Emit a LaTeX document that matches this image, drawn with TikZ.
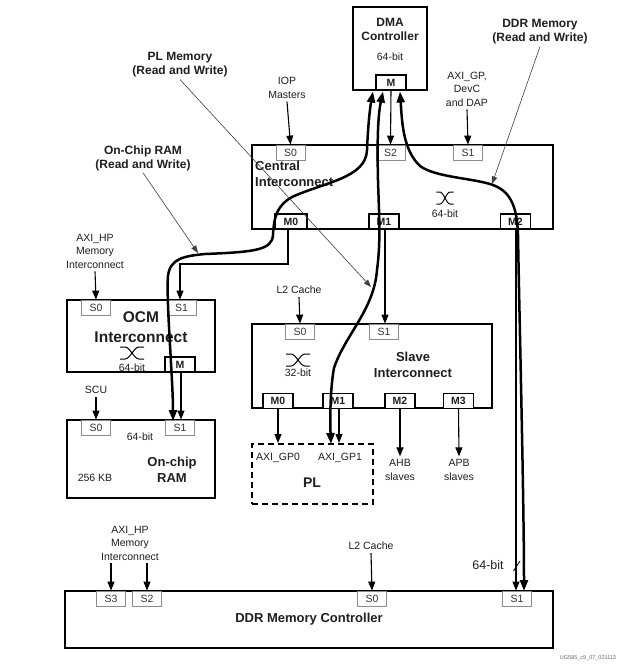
\documentclass[tikz,border=0pt]{standalone}
\usepackage{fontspec}
\setmainfont{Liberation Sans}
\usetikzlibrary{arrows.meta}
\begin{document}
\begin{tikzpicture}[x=1pt,y=-1pt,
  every node/.style={inner sep=0pt, text=black!88},
  lbl/.style={font=\fontsize{10.5}{13.5}\selectfont, align=center, inner sep=3pt},
  ttl/.style={font=\fontsize{12}{14}\selectfont\bfseries, align=center, inner sep=2pt},
  big/.style={font=\fontsize{13}{15.5}\selectfont\bfseries, align=center},
  thinbox/.style={draw=black, line width=1.2pt},
  thickbox/.style={draw=black, line width=2.2pt},
  sport/.style={draw=black!45, line width=0.8pt, minimum width=29pt, minimum height=15pt, font=\fontsize{10.5}{12}\selectfont, text=black!80, fill=white},
  mport/.style={draw=black, line width=1.1pt, minimum width=30pt, minimum height=15pt, font=\fontsize{10.5}{12}\selectfont\bfseries, fill=white},
  tarrow/.style={line width=1.1pt, -{Triangle[length=9pt,width=7pt]}},
  pointer/.style={line width=0.6pt, draw=black!75, -{Triangle[length=7.5pt,width=5.5pt]}},
  thickpath/.style={line width=2.5pt, {Triangle[length=11pt,width=8pt]}-{Triangle[length=11pt,width=8pt]}},
  xover/.pic={
    \draw[line width=1pt] (-12,-6) -- (-7,-6) .. controls (-2,-6) and (2,6) .. (7,6) -- (12,6);
    \draw[line width=1pt] (-12,6) -- (-7,6) .. controls (-2,6) and (2,-6) .. (7,-6) -- (12,-6);
  }
]
\useasboundingbox[fill=white] (0,0) rectangle (630,664);

% ---------- DMA controller ----------
\node[thickbox, minimum width=74pt, minimum height=83pt] (dma) at (390,48.5) {};
\node[ttl] (dmat) at (390,29) {DMA\\Controller};
\node[lbl] (dmab) at (390,57) {64-bit};
\node[mport] (dmaM) at (391,82.5) {M};

% ---------- Central interconnect ----------
\node[thinbox, minimum width=301pt, minimum height=84pt] (ci) at (402.5,187) {};
\node[sport] (ciS0) at (290.5,152.5) {S0};
\node[sport] (ciS2) at (390.5,152.5) {S2};
\node[sport] (ciS1) at (468,152.5) {S1};
\node[mport, minimum width=32pt] (ciM0) at (291,221.5) {M0};
\node[mport] (ciM1) at (384,221.5) {M1};
\node[mport] (ciM2) at (515.5,221.5) {M2};
\node[big, align=left, anchor=west, font=\fontsize{13}{16}\selectfont\bfseries] (cit) at (255,174) {Central\\Interconnect};
\pic[xscale=0.72] at (445,198) {xover};
\node[lbl] (cib) at (445,214) {64-bit};

\node[lbl] (iop) at (287,88) {IOP\\Masters};
\node[lbl] (axigp) at (467,89) {AXI\_GP,\\DevC\\and DAP};

% ---------- OCM interconnect ----------
\node[thinbox, minimum width=148pt, minimum height=72pt] (ocm) at (141,336) {};
\node[sport] (ocmS0) at (96,307.5) {S0};
\node[sport] (ocmS1) at (181.5,307.5) {S1};
\node[mport] (ocmM) at (180,364.5) {M};
\node[font=\fontsize{15.5}{20}\selectfont\bfseries, align=center] (ocmt) at (141,327) {OCM\\Interconnect};
\pic at (132,353) {xover};
\node[lbl] (ocmb) at (132,368) {64-bit};
\node[lbl] (axihp1) at (95,251) {AXI\_HP\\Memory\\Interconnect};

% ---------- On-chip RAM ----------
\node[thickbox, minimum width=148pt, minimum height=78pt] (ram) at (141,459) {};
\node[sport] (ramS0) at (96,427.5) {S0};
\node[sport] (ramS1) at (180,427.5) {S1};
\node[lbl] (ramb) at (140,437) {64-bit};
\node[big] (ramt) at (172,470) {On-chip\\RAM};
\node[lbl] (ramkb) at (95,478) {256 KB};
\node[lbl] (scu) at (96,390) {SCU};

% ---------- Slave interconnect ----------
\node[thinbox, minimum width=240pt, minimum height=84pt] (si) at (372,366) {};
\node[sport] (siS0) at (300,331.5) {S0};
\node[sport] (siS1) at (384,331.5) {S1};
\node[mport] (siM0) at (278,401) {M0};
\node[mport] (siM1) at (338,401) {M1};
\node[mport] (siM2) at (400,401) {M2};
\node[mport] (siM3) at (458.5,401) {M3};
\pic at (298,360) {xover};
\node[lbl] (sib) at (298,373) {32-bit};
\node[big] (sit) at (413,365) {Slave\\Interconnect};
\node[lbl] (l2a) at (299,290) {L2 Cache};

% ---------- PL ----------
\node[draw=black, line width=2pt, dash pattern=on 6pt off 4pt, minimum width=121pt, minimum height=60pt] (pl) at (312.5,474) {};
\node[lbl] (gp0) at (278,458) {AXI\_GP0};
\node[lbl] (gp1) at (340,458) {AXI\_GP1};
\node[font=\fontsize{14}{16}\selectfont\bfseries] (plt) at (312,483) {PL};
\node[lbl] (ahb) at (400,470) {AHB\\slaves};
\node[lbl] (apb) at (459,470) {APB\\slaves};

% ---------- DDR controller ----------
\node[thickbox, line width=2.4pt, minimum width=488pt, minimum height=57pt] (ddr) at (309,619.5) {};
\node[sport] (ddrS3) at (111,598.5) {S3};
\node[sport] (ddrS2) at (147,598.5) {S2};
\node[sport] (ddrS0) at (372,598.5) {S0};
\node[sport] (ddrS1) at (517,598.5) {S1};
\node[big] (ddrt) at (309,619) {DDR Memory Controller};
\node[lbl] (axihp2) at (130,543) {AXI\_HP\\Memory\\Interconnect};
\node[lbl] (l2b) at (371,546) {L2 Cache};
\node[font=\fontsize{12.5}{14}\selectfont] (b64) at (488,565) {64-bit};

% ---------- flow labels ----------
\node[ttl] (plmem) at (180,65) {PL Memory\\(Read and Write)};
\node[ttl] (ocmmem) at (143,158) {On-Chip RAM\\(Read and Write)};
\node[ttl] (ddrmem) at (540,32) {DDR Memory\\(Read and Write)};

\node[font=\fontsize{5.5}{6}\selectfont, text=black!60] (ug) at (588,658) {UG585\_c9\_07\_021113};

% ---------- thin arrows ----------
\draw[tarrow] (iop.south) -- (ciS0.north);
\draw[tarrow] (axigp.south) -- (ciS1.north);
\draw[tarrow] (dmaM.south) -- (ciS2.north);
\draw[tarrow] (ciM0.south -| 288,0) -- (288,264) -- (180,264) -- (ocmS1.north -| 180,0);
\draw[tarrow] (axihp1.south) -- (ocmS0.north);
\draw[tarrow] (scu.south) -- (ramS0.north);
\draw[tarrow] (ocmM.south -| 181,0) -- (ramS1.north -| 181,0);
\draw[tarrow] (ciM1.south -| 385,0) -- (siS1.north -| 385,0);
\draw[tarrow] (l2a.south) -- (siS0.north);
\draw[tarrow] (siM0.south) -- (pl.north -| siM0.south);
\draw[tarrow] (siM1.south -| 339,0) -- (pl.north -| 339,0);
\draw[tarrow] (siM2.south) -- (ahb.north);
\draw[tarrow] (siM3.south) -- (apb.north);
\draw[tarrow] (ciM2.south -| 516,0) -- (ddrS1.north -| 516,0);
\draw[tarrow] (axihp2.south -| ddrS3.north) -- (ddrS3.north);
\draw[tarrow] (axihp2.south -| ddrS2.north) -- (ddrS2.north);
\draw[tarrow] (l2b.south) -- (ddrS0.north);
\draw[line width=0.8pt] (513.5,571) -- (520,561);

% ---------- thick read/write paths ----------
\coordinate (dmaA) at (373,91.5);
\coordinate (dmaB) at (383,91.5);
\coordinate (dmaC) at (400,91.5);
\coordinate (ramT) at (173,421);
\coordinate (plT) at (331,444);
\coordinate (ddrT) at (524,591);

\draw[thickpath] (ramT) .. controls (173,380) and (166,300) .. (168,276)
  .. controls (170,258) and (185,256) .. (205,254)
  .. controls (255,252) and (272,250) .. (273,235)
  .. controls (274,215) and (278,205) .. (292,197)
  .. controls (325,182) and (366,178) .. (367,150)
  .. controls (368,125) and (370,108) .. (dmaA);

\draw[thickpath] (dmaB) .. controls (378,115) and (377,140) .. (378,180)
  .. controls (379,215) and (381,240) .. (377,270)
  .. controls (374,310) and (345,335) .. (334,368)
  .. controls (330,390) and (330,420) .. (plT);

\draw[thickpath] (dmaC) .. controls (402,122) and (403,150) .. (420,166)
  .. controls (435,177) and (470,178) .. (490,184)
  .. controls (510,190) and (517,205) .. (518,235)
  .. controls (519,300) and (524,500) .. (ddrT);

% ---------- pointers ----------
\coordinate (pPL) at (371,287);
\coordinate (pOCM) at (198,253);
\coordinate (pDDR) at (492,184);
\draw[pointer] (plmem.south) -- (pPL);
\draw[pointer] (ocmmem.south) -- (pOCM);
\draw[pointer] (ddrmem.south) -- (pDDR);
\end{tikzpicture}
\end{document}
